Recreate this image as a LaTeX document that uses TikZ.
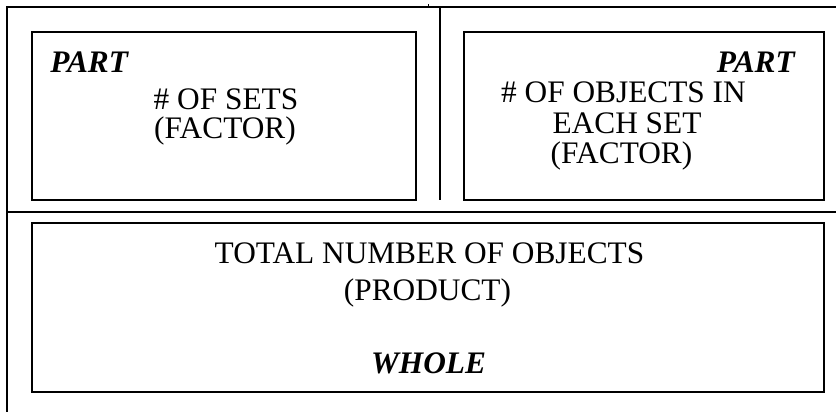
\documentclass[tikz,border=0pt]{standalone}
\usepackage{fontspec}
\setmainfont{Liberation Serif}
\begin{document}
\begin{tikzpicture}[x=0.75pt,y=-0.75pt,
  frame/.style={line width=1.5pt},
  boxline/.style={line width=1.5pt},
  txt/.style={anchor=base,inner sep=0pt,font=\fontsize{23.5}{27}\selectfont},
  emph/.style={txt,font=\fontsize{23.5}{27}\selectfont\bfseries\itshape}]
\useasboundingbox (0,0) rectangle (836,412);
% outer frame
\coordinate (tl) at (7,7);
\coordinate (tr) at (836,7);
\coordinate (bl) at (7,412);
\coordinate (sl) at (7,212);
\coordinate (sr) at (836,212);
\coordinate (dt) at (440,7);
\coordinate (db) at (440,200);
\coordinate (kt) at (428,4);
\coordinate (kb) at (428,8);
\draw[frame] (tr) -- (tl) -- (bl);
\draw[frame] (sl) -- (sr);
\draw[frame] (dt) -- (db);
\draw[line width=0.6pt] (kt) -- (kb);
% boxes
\draw[boxline] (32,32) rectangle (416,200);
\draw[boxline] (464,32) rectangle (824,200);
\draw[boxline] (32,223) rectangle (824,392);
% left box text
\node[emph,anchor=base west] (p1) at (50,72) {PART};
\node[txt] (s1) at (226,109) {\# OF SETS};
\node[txt] (f1) at (225,138) {(FACTOR)};
% right box text
\node[emph,anchor=base east] (p2) at (795,72) {PART};
\node[txt] (o2) at (623.5,102) {\# OF OBJECTS IN};
\node[txt] (e2) at (627,133) {EACH SET};
\node[txt] (f2) at (621.5,163) {(FACTOR)};
% bottom box text
\node[txt] (t3) at (429.5,263) {TOTAL NUMBER OF OBJECTS};
\node[txt] (r3) at (427.5,300) {(PRODUCT)};
\node[emph] (w3) at (428.5,373) {WHOLE};
\end{tikzpicture}
\end{document}
